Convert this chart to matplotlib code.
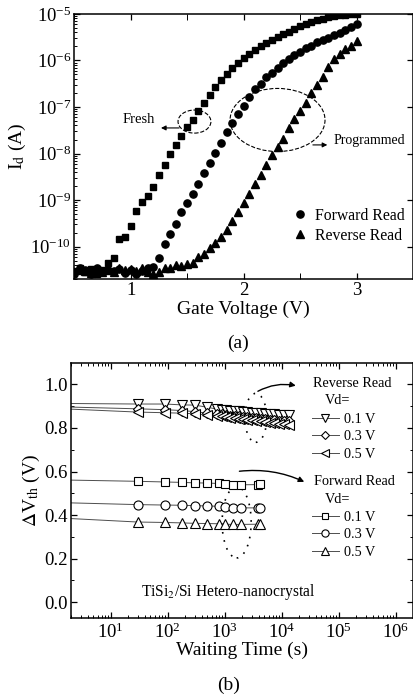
import numpy as np
import matplotlib
matplotlib.use("Agg")
import matplotlib.pyplot as plt
from matplotlib.patches import Ellipse
from matplotlib.ticker import MultipleLocator, LogLocator, NullFormatter

plt.rcParams["font.family"] = ["Liberation Serif", "DejaVu Serif"]
plt.rcParams["mathtext.fontset"] = "stix"

# ---- panel (a): Id-Vg curves (log10 of Id in A) ----
vg = [0.50, 0.55, 0.60, 0.65, 0.70, 0.75, 0.80, 0.85, 0.90, 0.95,
      1.00, 1.05, 1.10, 1.15, 1.20, 1.25, 1.30, 1.35, 1.40, 1.45,
      1.50, 1.55, 1.60, 1.65, 1.70, 1.75, 1.80, 1.85, 1.90, 1.95,
      2.00, 2.05, 2.10, 2.15, 2.20, 2.25, 2.30, 2.35, 2.40, 2.45,
      2.50, 2.55, 2.60, 2.65, 2.70, 2.75, 2.80, 2.85, 2.90, 2.95, 3.00]
fresh_log = [-10.52, -10.47, -10.55, -10.48, -10.58, -10.50, -10.35, -10.24, -9.84, -9.80,
             -9.55, -9.23, -9.04, -8.91, -8.71, -8.46, -8.24, -8.02, -7.82, -7.62,
             -7.42, -7.28, -7.09, -6.91, -6.74, -6.58, -6.42, -6.29, -6.17, -6.05,
             -5.95, -5.86, -5.78, -5.70, -5.63, -5.56, -5.49, -5.44, -5.38, -5.33,
             -5.27, -5.22, -5.18, -5.14, -5.10, -5.07, -5.05, -5.03, -5.02, -5.01, -5.00]
fwd_log = [-10.60, -10.45, -10.50, -10.58, -10.46, -10.55, -10.50, -10.52, -10.48, -10.56,
           -10.50, -10.58, -10.52, -10.47, -10.43, -10.24, -9.95, -9.73, -9.51, -9.26,
           -9.07, -8.86, -8.66, -8.42, -8.20, -7.98, -7.77, -7.54, -7.35, -7.15,
           -6.97, -6.79, -6.62, -6.50, -6.36, -6.26, -6.16, -6.06, -5.97, -5.89,
           -5.81, -5.74, -5.68, -5.61, -5.56, -5.51, -5.46, -5.40, -5.34, -5.28, -5.22]
vg_rev = vg[1:]
rev_log = [-10.50, -10.53, -10.56, -10.50, -10.54, -10.50, -10.55, -10.46, -10.50,
           -10.48, -10.52, -10.47, -10.55, -10.58, -10.55, -10.47, -10.47, -10.40, -10.42,
           -10.37, -10.36, -10.22, -10.15, -10.04, -9.92, -9.79, -9.64, -9.44, -9.26,
           -9.07, -8.88, -8.66, -8.46, -8.24, -8.04, -7.86, -7.68, -7.46, -7.26,
           -7.08, -6.91, -6.69, -6.52, -6.35, -6.15, -5.97, -5.86, -5.76, -5.68, -5.59]

# ---- panel (b): retention, delta Vth (V) vs waiting time (s) ----
t_fwd = [1, 30, 90, 180, 300, 500, 800, 1000, 1400, 1900, 3900, 4100]
fwd_01 = [0.562, 0.555, 0.552, 0.550, 0.548, 0.547, 0.545, 0.544, 0.540, 0.539, 0.540, 0.541]
fwd_03 = [0.458, 0.448, 0.446, 0.445, 0.443, 0.442, 0.440, 0.437, 0.434, 0.433, 0.433, 0.434]
fwd_05 = [0.388, 0.368, 0.366, 0.364, 0.362, 0.361, 0.360, 0.358, 0.357, 0.357, 0.358, 0.360]

t_rev = [1, 30, 90, 180, 300, 500, 750, 900, 1050, 1250, 1500, 1800, 2100,
         2500, 3000, 3600, 4300, 5200, 6200, 7500, 9000, 11000, 13500]
rev_01 = [0.913, 0.910, 0.910, 0.906, 0.905, 0.895, 0.886, 0.884, 0.883, 0.880, 0.879, 0.876,
          0.874, 0.873, 0.870, 0.868, 0.867, 0.864, 0.862, 0.862, 0.860, 0.859, 0.858]
rev_03 = [0.898, 0.888, 0.884, 0.880, 0.875, 0.868, 0.864, 0.862, 0.860, 0.857, 0.855, 0.853,
          0.851, 0.849, 0.846, 0.844, 0.842, 0.840, 0.838, 0.836, 0.834, 0.832, 0.830]
rev_05 = [0.890, 0.873, 0.870, 0.868, 0.865, 0.860, 0.856, 0.853, 0.851, 0.848, 0.846, 0.843,
          0.840, 0.838, 0.835, 0.833, 0.830, 0.828, 0.825, 0.823, 0.820, 0.818, 0.815]
vd_labels = ["0.1 V", "0.3 V", "0.5 V"]
t_ticks = [1e1, 1e2, 1e3, 1e4, 1e5, 1e6]

fig = plt.figure(figsize=(4.14, 6.96), dpi=100)
ax1 = fig.add_axes([0.179, 0.599, 0.819, 0.381])
ax2 = fig.add_axes([0.171, 0.112, 0.826, 0.366])

# ---------------- panel (a) ----------------
ax1.semilogy(vg, 10.0 ** np.array(fresh_log), "s", color="black", ms=4.6, mec="black")
ax1.semilogy(vg, 10.0 ** np.array(fwd_log), "o", color="black", ms=5.2, label="Forward Read")
ax1.semilogy(vg_rev, 10.0 ** np.array(rev_log), "^", color="black", ms=5.6, label="Reverse Read")
ax1.set_xlim(0.5, 3.5)
ax1.set_ylim(2e-11, 1e-5)
ax1.xaxis.set_major_locator(MultipleLocator(1))
ax1.xaxis.set_minor_locator(MultipleLocator(0.5))
ax1.yaxis.set_major_locator(LogLocator(base=10, numticks=20))
ax1.yaxis.set_minor_locator(LogLocator(base=10, subs=np.arange(2, 10), numticks=20))
ax1.yaxis.set_minor_formatter(NullFormatter())
ax1.tick_params(which="both", direction="in", top=True, right=True, labelsize=13.5)
ax1.tick_params(which="major", length=4, width=0.9)
ax1.tick_params(which="minor", length=2.5, width=0.7)
ax1.tick_params(axis="x", which="minor", length=4)
ax1.tick_params(axis="y", which="minor", right=False)
ax1.tick_params(axis="x", pad=2)
ax1.tick_params(axis="y", pad=2)
ax1.set_xlabel("Gate Voltage (V)", fontsize=14, labelpad=1)
ax1.set_ylabel(r"I$_{\rm d}$ (A)", fontsize=14, labelpad=2)
for s in ax1.spines.values():
    s.set_linewidth(1.1)

ax1.legend(loc="lower right", bbox_to_anchor=(0.995, 0.11), frameon=False, fontsize=11.3,
           handletextpad=0.5, handlelength=1.0, labelspacing=0.25, borderaxespad=0)

ax1.add_patch(Ellipse((0.355, 0.594), 0.097, 0.087, transform=ax1.transAxes,
                      fill=False, ls="--", lw=0.8, color="black"))
ax1.add_patch(Ellipse((0.600, 0.600), 0.280, 0.238, transform=ax1.transAxes,
                      fill=False, ls="--", lw=0.8, color="black"))
ax1.annotate("", xy=(0.248, 0.570), xytext=(0.318, 0.570), xycoords="axes fraction",
             arrowprops=dict(arrowstyle="-|>", lw=0.8, color="black", mutation_scale=7))
ax1.annotate("", xy=(0.755, 0.506), xytext=(0.696, 0.506), xycoords="axes fraction",
             arrowprops=dict(arrowstyle="-|>", lw=0.8, color="black", mutation_scale=7))
ax1.text(0.142, 0.603, "Fresh", transform=ax1.transAxes, fontsize=10.5, ha="left", va="center")
ax1.text(0.764, 0.522, "Programmed", transform=ax1.transAxes, fontsize=10, ha="left", va="center")

# ---------------- panel (b) ----------------
line_kw = dict(color="0.3", lw=0.7, mec="black", mfc="white", mew=0.8, ms=6.5)
rev_lines = [
    ax2.semilogx(t_rev, rev_01, marker="v", **line_kw)[0],
    ax2.semilogx(t_rev, rev_03, marker="D", **dict(line_kw, ms=5.5))[0],
    ax2.semilogx(t_rev, rev_05, marker="<", **line_kw)[0],
]
fwd_lines = [
    ax2.semilogx(t_fwd, fwd_01, marker="s", **dict(line_kw, ms=6))[0],
    ax2.semilogx(t_fwd, fwd_03, marker="o", **line_kw)[0],
    ax2.semilogx(t_fwd, fwd_05, marker="^", **line_kw)[0],
]
ax2.set_xlim(2, 2e6)
ax2.set_ylim(-0.073, 1.097)
ax2.set_xticks(t_ticks)
ax2.xaxis.set_minor_locator(LogLocator(base=10, subs=np.arange(2, 10), numticks=20))
ax2.xaxis.set_minor_formatter(NullFormatter())
ax2.yaxis.set_major_locator(MultipleLocator(0.2))
ax2.yaxis.set_minor_locator(MultipleLocator(0.1))
ax2.yaxis.set_major_formatter(plt.FuncFormatter(lambda v, p: f"{v:.1f}"))
ax2.tick_params(which="both", direction="in", top=True, right=True, labelsize=13.5)
ax2.tick_params(which="major", length=4, width=0.9)
ax2.tick_params(which="minor", length=2.5, width=0.7)
ax2.tick_params(axis="x", pad=3)
ax2.tick_params(axis="y", pad=2)
ax2.set_xlabel("Waiting Time (s)", fontsize=14, labelpad=0)
ax2.set_ylabel(r"$\Delta$V$_{\rm th}$ (V)", fontsize=14, labelpad=2)
for s in ax2.spines.values():
    s.set_linewidth(1.1)

ax2.text(0.708, 0.922, "Reverse Read", transform=ax2.transAxes, fontsize=10.3, va="center")
ax2.text(0.743, 0.855, "Vd=", transform=ax2.transAxes, fontsize=10.3, va="center")
leg_kw = dict(frameon=False, fontsize=10.3, handlelength=1.9, handletextpad=0.35,
              labelspacing=0.3, borderaxespad=0, borderpad=0, loc="upper left",
              markerscale=0.8)
leg_r = ax2.legend(rev_lines, vd_labels, bbox_to_anchor=(0.705, 0.805), **leg_kw)
ax2.add_artist(leg_r)
ax2.text(0.711, 0.537, "Forward Read", transform=ax2.transAxes, fontsize=10.3, va="center")
ax2.text(0.743, 0.467, "Vd=", transform=ax2.transAxes, fontsize=10.3, va="center")
ax2.legend(fwd_lines, vd_labels, bbox_to_anchor=(0.705, 0.42), **leg_kw)

ax2.add_patch(Ellipse((0.541, 0.786), 0.064, 0.192, transform=ax2.transAxes,
                      fill=False, ls=(0, (1, 4)), lw=1.2, color="black"))
ax2.add_patch(Ellipse((0.485, 0.376), 0.085, 0.280, transform=ax2.transAxes,
                      fill=False, ls=(0, (1, 4)), lw=1.2, color="black"))
ax2.annotate("", xy=(0.666, 0.910), xytext=(0.540, 0.885), xycoords="axes fraction",
             arrowprops=dict(arrowstyle="-|>", lw=1.0, color="black", mutation_scale=8,
                             connectionstyle="arc3,rad=-0.2"))
ax2.annotate("", xy=(0.690, 0.530), xytext=(0.485, 0.575), xycoords="axes fraction",
             arrowprops=dict(arrowstyle="-|>", lw=1.0, color="black", mutation_scale=8,
                             connectionstyle="arc3,rad=-0.15"))
ax2.text(0.205, 0.102, r"TiSi$_2$/Si Hetero-nanocrystal", transform=ax2.transAxes,
         fontsize=11.2, va="center")

fig.text(0.574, 0.507, "(a)", ha="center", va="center", fontsize=14)
fig.text(0.553, 0.016, "(b)", ha="center", va="center", fontsize=14)

fig.savefig("out.png", dpi=100)
